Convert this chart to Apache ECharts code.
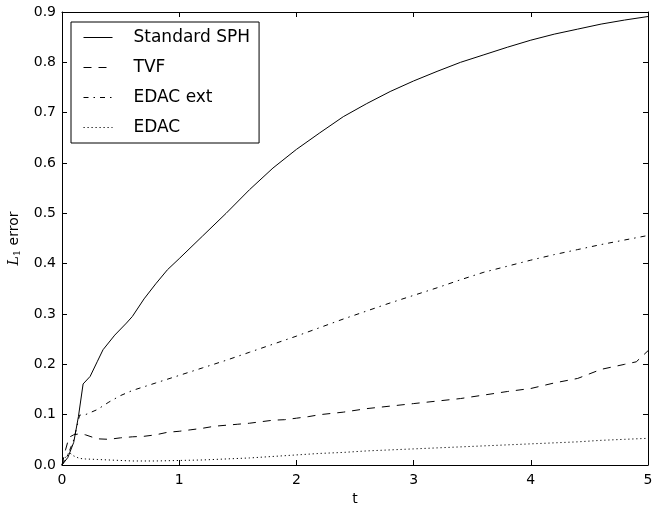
<!DOCTYPE html>
<html>
<head>
<meta charset="utf-8">
<script src="https://cdn.jsdelivr.net/npm/echarts@6/dist/echarts.min.js"></script>
<style>html,body{margin:0;padding:0;background:#fff}#c{width:652px;height:508px}</style>
</head>
<body>
<div id="c"></div>
<script>
var seriesNames = ['Standard SPH', 'TVF', 'EDAC ext', 'EDAC'];

var tSPH = [0, 0.05, 0.1, 0.14, 0.18, 0.24, 0.3, 0.35, 0.45, 0.55, 0.6, 0.7, 0.8, 0.9, 1.0, 1.2, 1.4, 1.6, 1.8, 2.0, 2.2, 2.4, 2.6, 2.8, 3.0, 3.2, 3.4, 3.6, 3.8, 4.0, 4.2, 4.4, 4.6, 4.8, 5.0];
var vSPH = [0, 0.015, 0.045, 0.096, 0.161, 0.176, 0.205, 0.229, 0.258, 0.282, 0.295, 0.33, 0.36, 0.388, 0.41, 0.455, 0.5, 0.547, 0.59, 0.627, 0.66, 0.692, 0.718, 0.742, 0.763, 0.782, 0.8, 0.815, 0.83, 0.844, 0.856, 0.866, 0.876, 0.884, 0.891];

var tTVF = [0, 0.03, 0.06, 0.1, 0.15, 0.2, 0.3, 0.4, 0.5, 0.6, 0.7, 0.8, 0.9, 1.0, 1.1, 1.2, 1.3, 1.4, 1.5, 1.6, 1.7, 1.8, 1.9, 2.0, 2.1, 2.2, 2.4, 2.6, 2.8, 3.0, 3.2, 3.4, 3.6, 3.8, 4.0, 4.2, 4.4, 4.6, 4.8, 4.9, 5.0];
var vTVF = [0, 0.03, 0.055, 0.06, 0.062, 0.06, 0.052, 0.051, 0.054, 0.056, 0.057, 0.06, 0.065, 0.067, 0.07, 0.073, 0.077, 0.079, 0.081, 0.083, 0.086, 0.089, 0.09, 0.093, 0.096, 0.1, 0.105, 0.112, 0.117, 0.122, 0.127, 0.132, 0.139, 0.146, 0.152, 0.163, 0.172, 0.19, 0.2, 0.205, 0.227];

var tExt = [0, 0.05, 0.1, 0.15, 0.2, 0.3, 0.4, 0.5, 0.6, 0.8, 1.0, 1.2, 1.4, 1.6, 1.8, 2.0, 2.2, 2.4, 2.6, 2.8, 3.0, 3.2, 3.4, 3.6, 3.8, 4.0, 4.2, 4.4, 4.6, 4.8, 5.0];
var vExt = [0, 0.02, 0.05, 0.099, 0.1, 0.11, 0.125, 0.138, 0.148, 0.163, 0.178, 0.193, 0.208, 0.224, 0.24, 0.256, 0.273, 0.29, 0.306, 0.322, 0.337, 0.352, 0.368, 0.383, 0.395, 0.407, 0.418, 0.428, 0.438, 0.447, 0.456];

var tEDAC = [0, 0.03, 0.06, 0.1, 0.15, 0.2, 0.3, 0.4, 0.5, 0.6, 0.8, 1.0, 1.2, 1.4, 1.6, 1.8, 2.0, 2.2, 2.4, 2.6, 2.8, 3.0, 3.2, 3.4, 3.6, 3.8, 4.0, 4.2, 4.4, 4.6, 4.8, 5.0];
var vEDAC = [0, 0.015, 0.025, 0.018, 0.013, 0.012, 0.011, 0.01, 0.009, 0.008, 0.008, 0.009, 0.01, 0.012, 0.014, 0.017, 0.02, 0.023, 0.025, 0.028, 0.03, 0.032, 0.034, 0.036, 0.038, 0.04, 0.042, 0.044, 0.046, 0.049, 0.051, 0.053];

var xTicks = [0, 1, 2, 3, 4, 5];
var yTicks = [0, 0.1, 0.2, 0.3, 0.4, 0.5, 0.6, 0.7, 0.8, 0.9];

function pairs(t, v) { return t.map(function (x, i) { return [x, v[i]]; }); }

var FONT = 'DejaVu Sans';
var chart = echarts.init(document.getElementById('c'), null, { renderer: 'canvas' });

function mkSeries(name, t, v, dash) {
  return {
    name: name, type: 'line', data: pairs(t, v), symbol: 'none', smooth: false,
    xAxisIndex: 0, yAxisIndex: 0,
    lineStyle: { color: '#000', width: 1, type: dash },
    itemStyle: { color: '#000' },
    animation: false
  };
}

function axisLineOn() { return { show: true, onZero: false, lineStyle: { color: '#000', width: 1 } }; }
function tickOn() { return { show: true, inside: true, length: 5, lineStyle: { color: '#000', width: 1 } }; }

chart.setOption({
  animation: false,
  textStyle: { fontFamily: FONT },
  grid: { left: 62, right: 4, top: 12, bottom: 43, containLabel: false, outerBoundsMode: 'none' },
  legend: {
    orient: 'vertical', left: 71, top: 22,
    data: seriesNames,
    borderColor: '#000', borderWidth: 1, borderRadius: 0,
    padding: [7, 9, 7, 12],
    itemWidth: 29, itemHeight: 14, itemGap: 13,
    itemStyle: { opacity: 0 },
    lineStyle: { width: 1 },
    textStyle: { fontFamily: FONT, fontSize: 17, color: '#000', padding: [0, 0, 0, 16] }
  },
  xAxis: [{
    type: 'value', min: 0, max: 5, interval: 1, position: 'bottom',
    name: 't', nameLocation: 'middle', nameGap: 26,
    nameTextStyle: { fontFamily: FONT, fontSize: 14, color: '#000' },
    axisLine: axisLineOn(), axisTick: tickOn(), splitLine: { show: false },
    axisLabel: { fontFamily: FONT, fontSize: 14, color: '#000', margin: 8 }
  }, {
    type: 'value', min: 0, max: 5, interval: 1, position: 'top',
    axisLine: axisLineOn(), axisTick: tickOn(), splitLine: { show: false },
    axisLabel: { show: false }
  }],
  yAxis: [{
    type: 'value', min: 0, max: 0.9, interval: 0.1, position: 'left',
    name: '{i|L}{s|1} error', nameLocation: 'middle', nameGap: 39,
    nameTextStyle: { fontFamily: FONT, fontSize: 14, color: '#000',
      rich: {
        i: { fontFamily: 'DejaVu Serif', fontStyle: 'italic', fontSize: 14, color: '#000' },
        s: { fontFamily: 'DejaVu Serif', fontSize: 10, color: '#000', verticalAlign: 'bottom', padding: [6, 0, 0, 0] }
      } },
    axisLine: axisLineOn(), axisTick: tickOn(), splitLine: { show: false },
    axisLabel: { fontFamily: FONT, fontSize: 14, color: '#000', margin: 6,
      formatter: function (v) { return v.toFixed(1); } }
  }, {
    type: 'value', min: 0, max: 0.9, interval: 0.1, position: 'right',
    axisLine: axisLineOn(), axisTick: tickOn(), splitLine: { show: false },
    axisLabel: { show: false }
  }],
  series: [
    mkSeries(seriesNames[0], tSPH, vSPH, 'solid'),
    mkSeries(seriesNames[1], tTVF, vTVF, [8, 7]),
    mkSeries(seriesNames[2], tExt, vExt, [5, 5, 1.5, 5]),
    mkSeries(seriesNames[3], tEDAC, vEDAC, [1.2, 2.8])
  ]
});
</script>
</body>
</html>
